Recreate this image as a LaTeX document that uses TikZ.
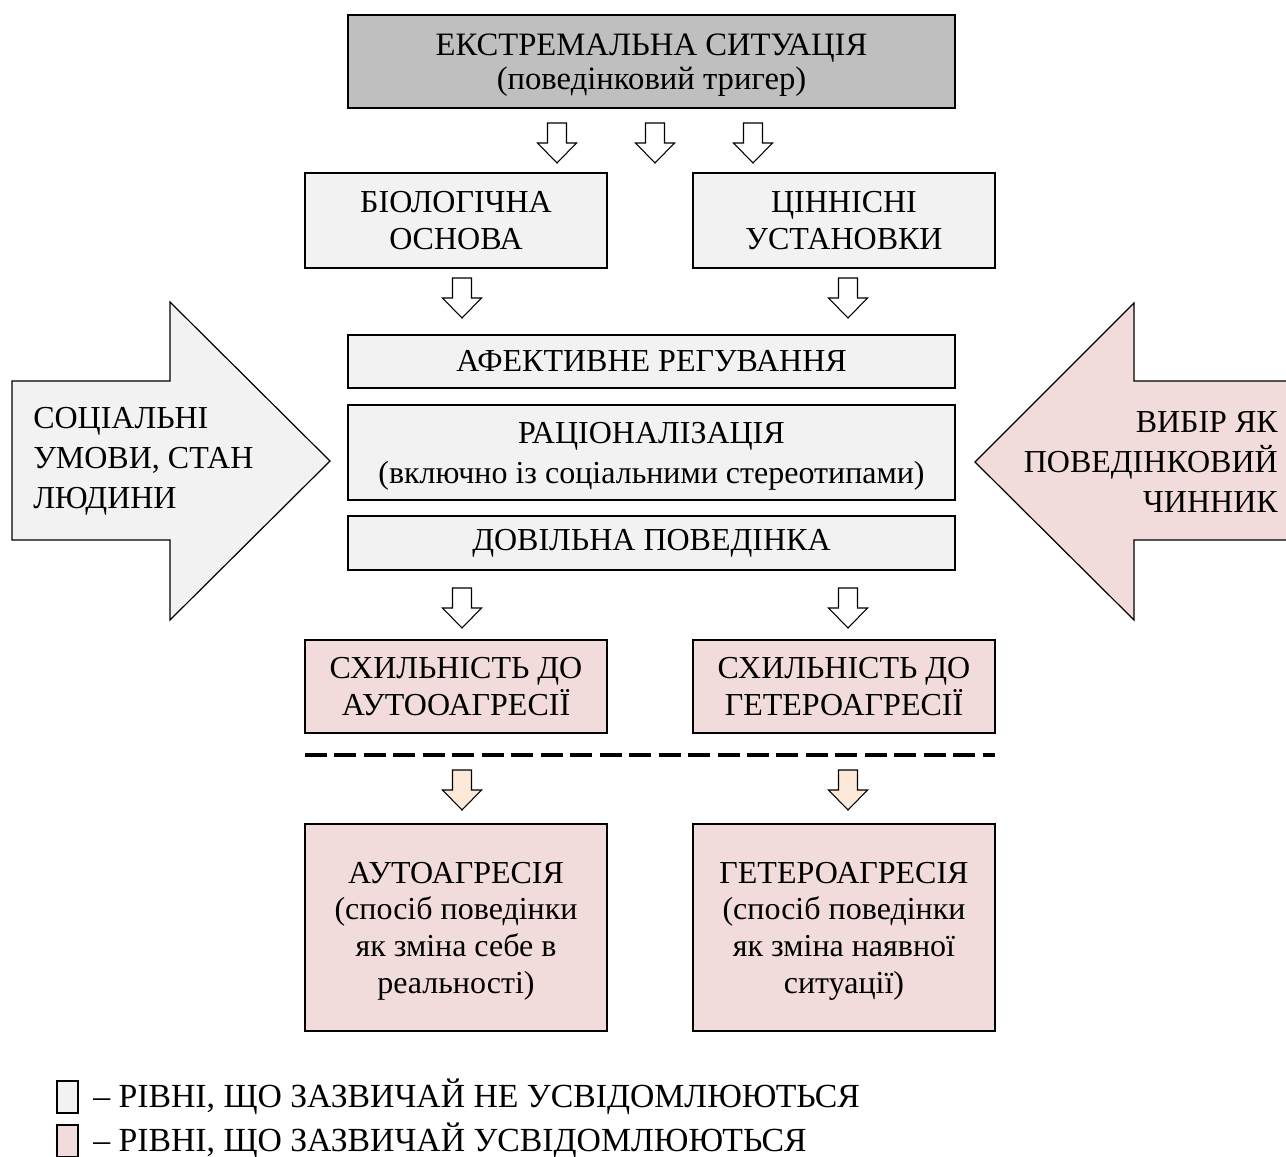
\documentclass[tikz,border=0pt]{standalone}
\usepackage{fontspec}
\setmainfont{Liberation Serif}
\definecolor{dgray}{RGB}{191,191,191}
\definecolor{lgray}{RGB}{242,242,242}
\definecolor{lpink}{RGB}{242,220,219}
\definecolor{lpeach}{RGB}{253,233,217}
\begin{document}
\begin{tikzpicture}[x=0.75pt,y=-0.75pt,
  font=\fontsize{24}{27.5}\selectfont,
  sz/.style 2 args={minimum width=#1*0.75pt, minimum height=#2*0.75pt},
  box/.style={draw, line width=1.1pt, inner sep=0pt, align=center},
  topbox/.style={box, fill=dgray, font=\fontsize{24.5}{25.5}\selectfont},
  gbox/.style={box, fill=lgray},
  pbox/.style={box, fill=lpink},
  sidetext/.style={inner sep=0pt, font=\fontsize{24}{30}\selectfont},
  legtext/.style={inner sep=0pt, anchor=west, font=\fontsize{25.3}{28}\selectfont},
  pics/downarr/.style={code={
    \draw[line width=0.8pt, fill=#1] (-9.5,0) -- (9.5,0) -- (9.5,20) -- (19.5,20)
      -- (0,40) -- (-19.5,20) -- (-9.5,20) -- cycle;}}
]
\useasboundingbox (0,0) rectangle (1286,1157);

% side arrows
\path[draw, line width=0.9pt, fill=lgray] (12,381) -- (170,381) -- (170,302) -- (330,461)
  -- (170,620) -- (170,540) -- (12,540) -- cycle;
\node[sidetext, anchor=west, align=left] (soc) at (33,461) {СОЦІАЛЬНІ\\УМОВИ, СТАН\\ЛЮДИНИ};
\path[draw, line width=0.9pt, fill=lpink] (1300,381) -- (1134,381) -- (1134,303) -- (975,462)
  -- (1134,620) -- (1134,540) -- (1300,540) -- cycle;
\node[sidetext, anchor=east, align=right] (vyb) at (1278,462) {ВИБІР ЯК\\ПОВЕДІНКОВИЙ\\ЧИННИК};

% boxes
\node[topbox, sz={607}{93}] (ext) at (651.5,61.5) {};
\node[inner sep=0pt, align=center, font=\fontsize{24.5}{25.5}\selectfont] (extt) at (651.5,65.5) {ЕКСТРЕМАЛЬНА СИТУАЦІЯ\\(поведінковий тригер)};
\node[gbox, sz={302}{95}] (bio) at (456,220.5) {БІОЛОГІЧНА\\ОСНОВА};
\node[gbox, sz={302}{95}] (cin) at (844,220.5) {ЦІННІСНІ\\УСТАНОВКИ};
\node[gbox, sz={607}{53}] (afe) at (651.5,361.5) {АФЕКТИВНЕ РЕГУВАННЯ};
\node[gbox, sz={607}{95}] (rac) at (651.5,452.5) {};
\node[inner sep=0pt, align=center, font=\fontsize{24}{30}\selectfont] (ract) at (651.5,456.5) {РАЦІОНАЛІЗАЦІЯ\\(включно із соціальними стереотипами)};
\node[gbox, sz={607}{54}] (dov) at (651.5,543) {ДОВІЛЬНА ПОВЕДІНКА};
\node[pbox, sz={302}{93}] (sx1) at (456,686.5) {СХИЛЬНІСТЬ ДО\\АУТООАГРЕСІЇ};
\node[pbox, sz={302}{93}] (sx2) at (844,686.5) {СХИЛЬНІСТЬ ДО\\ГЕТЕРОАГРЕСІЇ};
\node[pbox, sz={302}{207}] (aut) at (456,927.5) {};
\node[inner sep=0pt, align=center] (autt) at (456,931) {АУТОАГРЕСІЯ\\(спосіб поведінки\\як зміна себе в\\реальності)};
\node[pbox, sz={302}{207}] (het) at (844,927.5) {};
\node[inner sep=0pt, align=center] (hett) at (844,931) {ГЕТЕРОАГРЕСІЯ\\(спосіб поведінки\\як зміна наявної\\ситуації)};

% block arrows
\pic at (557,123) {downarr=white};
\pic at (655,123) {downarr=white};
\pic at (753,123) {downarr=white};
\pic at (462,278) {downarr=white};
\pic at (848,278) {downarr=white};
\pic at (462,588) {downarr=white};
\pic at (848,588) {downarr=white};
\pic at (462,770) {downarr=lpeach};
\pic at (848,770) {downarr=lpeach};

% dashed separator
\coordinate (dl) at (305,755);
\coordinate (dr) at (995,755);
\draw[line width=2.6pt, dash pattern=on 16.5pt off 5.6pt] (dl) -- (dr);

% legend
\node[gbox, sz={21}{32}] (lg1) at (67.5,1097) {};
\node[pbox, sz={21}{32}] (lg2) at (67.5,1141) {};
\node[legtext] (lt1) at (93,1097) {– РІВНІ, ЩО ЗАЗВИЧАЙ НЕ УСВІДОМЛЮЮТЬСЯ};
\node[legtext] (lt2) at (93,1141) {– РІВНІ, ЩО ЗАЗВИЧАЙ УСВІДОМЛЮЮТЬСЯ};
\end{tikzpicture}
\end{document}
